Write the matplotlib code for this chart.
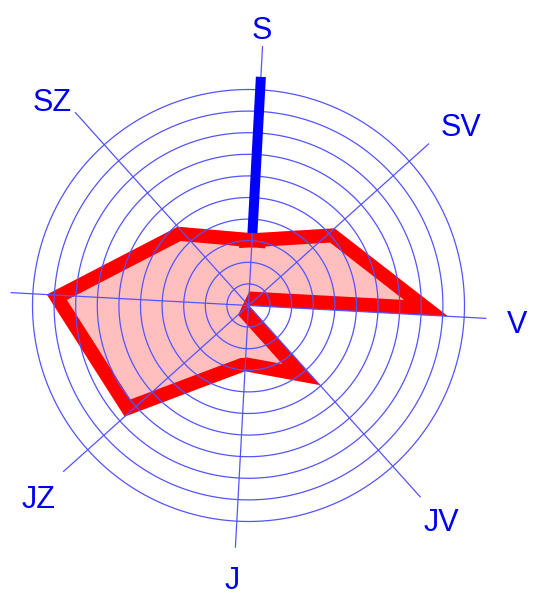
import numpy as np
import matplotlib
matplotlib.use("Agg")
import matplotlib.pyplot as plt

# ---- data ----
axis_labels = ['S', 'SV', 'V', 'JV', 'J', 'JZ', '', 'SZ']
axis_angles = [0, 45, 90, 135, 180, 225, 270, 315]          # compass degrees
point_angles = [0, 45, 90, 112.5, 135, 180, 225, 270, 315]   # polygon points
point_values = [3.35, 5.35, 9.25, 0.0, 4.95, 3.05, 7.7, 9.35, 4.9]
bar_angle = 0
bar_top = 10.6
rings = [1, 2, 3, 4, 5, 6, 7, 8, 9, 10]

# ---- layout ----
W, H, DPI = 540, 603, 100
PX = 21.6            # pixels per unit
RMAX = 11.5
ROT = 3.1            # clockwise rotation, degrees
cx, cy = 248.5, H - 305.5
spoke_len = [12.0, 11.2, 11.0, 11.9, 11.2, 11.5, 11.0, 12.0]
label_r = [12.86, 12.91, 12.45, 13.34, 12.64, 13.14, 13.0, 13.16]
label_da = [-0.3, 1.6, 0.4, 0.0, 0.4, -0.5, 0.0, -1.8]
FS = 22

fig = plt.figure(figsize=(W / DPI, H / DPI), dpi=DPI)
size = 2 * RMAX * PX
ax = fig.add_axes([(cx - size / 2) / W, (cy - size / 2) / H, size / W, size / H],
                  projection='polar')
ax.set_theta_direction(-1)
ax.set_theta_offset(np.pi / 2 - np.deg2rad(ROT))
ax.set_ylim(0, RMAX)
ax.axis('off')

grid_col = (0.33, 0.33, 1.0)

th = np.deg2rad(point_angles)
r = np.array(point_values)
poly = ax.fill(th, r, color='#ffbfbf', lw=0, zorder=1)[0]
thc = np.append(th, th[0])
rc = np.append(r, r[0])
band_px = 14
line, = ax.plot(thc, rc, color='#ff0000', lw=2 * band_px * 72 / DPI,
                solid_joinstyle='bevel', zorder=2)
line.set_clip_path(poly)

# grid rings
tt = np.linspace(0, 2 * np.pi, 400)
for rr in rings:
    ax.plot(tt, np.full_like(tt, rr), color=grid_col, lw=0.9, zorder=3)
# spokes
for a, L in zip(axis_angles, spoke_len):
    ax.plot([np.deg2rad(a), np.deg2rad(a)], [0, L], color=grid_col, lw=0.9,
            zorder=3, clip_on=False)

# blue bar
ax.plot([np.deg2rad(bar_angle)] * 2, [point_values[0], bar_top], color='#0000ff',
        lw=10 * 72 / DPI, solid_capstyle='butt', zorder=4)

# labels
cap_half = 0.716 * FS / 2
for lab, a, lr, da in zip(axis_labels, axis_angles, label_r, label_da):
    if lab:
        ax.annotate(lab, xy=(np.deg2rad(a + da), lr), xytext=(0, -cap_half),
                    textcoords='offset points', ha='center', va='baseline',
                    color='#0000ee', fontsize=FS, family='Liberation Sans',
                    annotation_clip=False)

fig.savefig('out.png', dpi=DPI)
